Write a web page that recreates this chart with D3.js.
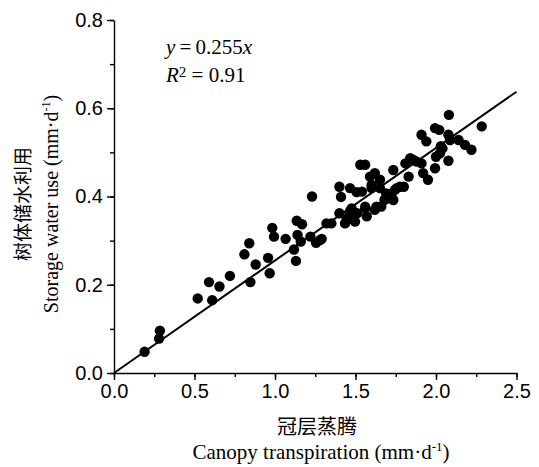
<!DOCTYPE html>
<html>
<head>
<meta charset="utf-8">
<script src="https://cdn.jsdelivr.net/npm/d3@7"></script>
<style>
  body { margin: 0; background: #fff; }
  .tick text { font-family: "Liberation Sans", Arial, sans-serif; font-size: 20px; fill: #000; }
  .domain, .tick line { stroke: #000; stroke-width: 1.4px; }
</style>
</head>
<body>
<script>
//canopy transpiration (mm/d)
var transpiration = [0.19, 0.28, 0.285, 0.52, 0.59, 0.61, 0.655, 0.72, 0.81, 0.84,
  0.847, 0.88, 0.957, 0.967, 0.983, 0.994, 1.066, 1.118, 1.13, 1.135,
  1.168, 1.14, 1.16, 1.22, 1.23, 1.255, 1.29, 1.32, 1.35, 1.40,
  1.41, 1.466, 1.507, 1.40, 1.445, 1.487, 1.435, 1.476, 1.497, 1.57,
  1.56, 1.60, 1.62, 1.59, 2.08, 2.284, 1.994, 2.02, 1.91, 1.94,
  2.077, 2.087, 2.14, 2.18, 2.22, 2.04, 2.025, 2.0, 2.077, 1.994,
  1.91, 1.92, 1.95, 1.84, 1.81, 1.88, 1.83, 1.735, 1.80, 1.756,
  1.725, 1.714, 1.652, 1.652, 1.62, 1.56, 1.53, 1.60, 1.54, 1.66,
  1.56, 1.735, 1.466, 1.63, 1.69, 1.776, 1.28, 1.86, 2.03, 1.68,
  1.745, 1.51];
//storage water use (mm/d)
var storage = [0.048, 0.078, 0.096, 0.169, 0.206, 0.165, 0.196, 0.22, 0.269, 0.294,
  0.206, 0.246, 0.261, 0.226, 0.329, 0.309, 0.304, 0.28, 0.254, 0.345,
  0.337, 0.313, 0.298, 0.309, 0.40, 0.295, 0.304, 0.339, 0.339, 0.422,
  0.399, 0.419, 0.41, 0.362, 0.351, 0.362, 0.339, 0.373, 0.343, 0.355,
  0.373, 0.419, 0.37, 0.445, 0.585, 0.559, 0.555, 0.551, 0.54, 0.525,
  0.54, 0.528, 0.528, 0.517, 0.506, 0.509, 0.498, 0.49, 0.481, 0.464,
  0.475, 0.453, 0.438, 0.487, 0.475, 0.479, 0.445, 0.46, 0.422, 0.419,
  0.407, 0.396, 0.419, 0.438, 0.453, 0.472, 0.472, 0.426, 0.411, 0.377,
  0.377, 0.392, 0.367, 0.377, 0.407, 0.422, 0.301, 0.483, 0.514, 0.392,
  0.415, 0.362];
var slope = 0.255; //fitted line y = 0.255x
var xTicks = [0, 0.5, 1.0, 1.5, 2.0, 2.5];
var yTicks = [0, 0.2, 0.4, 0.6, 0.8];

var width = 539,
    height = 467;

var svg = d3.select("body")
    .append("svg")
    .attr("width", width)
    .attr("height", height);

var x = d3.scaleLinear().domain([0, 2.5]).range([114, 516.5]);
var y = d3.scaleLinear().domain([0, 0.8]).range([373, 20]);

//minor ticks first
svg.append("g")
    .attr("transform", "translate(0,373)")
    .call(d3.axisBottom(x).tickValues(d3.range(0, 2.51, 0.25)).tickSize(4).tickFormat(""))
    .select(".domain").remove();
svg.append("g")
    .attr("transform", "translate(114,0)")
    .call(d3.axisLeft(y).tickValues(d3.range(0, 0.81, 0.1)).tickSize(4).tickFormat(""))
    .select(".domain").remove();

//major axes
svg.append("g")
    .attr("transform", "translate(0,373)")
    .call(d3.axisBottom(x).tickValues(xTicks).tickSize(7).tickSizeOuter(0).tickPadding(4).tickFormat(d3.format(".1f")));
svg.append("g")
    .attr("transform", "translate(114,0)")
    .call(d3.axisLeft(y).tickValues(yTicks).tickSize(7).tickSizeOuter(0).tickPadding(4).tickFormat(d3.format(".1f")));

//regression line
svg.append("line")
    .attr("x1", x(0)).attr("y1", y(0))
    .attr("x2", x(2.5)).attr("y2", y(slope * 2.5))
    .attr("stroke", "#000")
    .attr("stroke-width", 2);

//points
svg.selectAll(".pt")
    .data(transpiration)
    .enter()
    .append("circle")
    .attr("class", "pt")
    .attr("cx", function(d){ return x(d); })
    .attr("cy", function(d, i){ return y(storage[i]); })
    .attr("r", 5.2)
    .attr("fill", "#000");

//equation
var eq = svg.append("text")
    .attr("x", 166).attr("y", 54)
    .style("font-family", "'Liberation Serif', serif")
    .style("font-size", "21px");
eq.append("tspan").style("font-style", "italic").text("y");
eq.append("tspan").text("\u2009=\u20090.255");
eq.append("tspan").style("font-style", "italic").text("x");

var r2 = svg.append("text")
    .attr("x", 166).attr("y", 82)
    .style("font-family", "'Liberation Serif', serif")
    .style("font-size", "21px");
r2.append("tspan").style("font-style", "italic").text("R");
r2.append("tspan").attr("dy", -5).style("font-size", "15px").text("2");
r2.append("tspan").attr("dy", 5).text(" = 0.91");

//x axis titles
svg.append("text")
    .attr("x", 317).attr("y", 434)
    .attr("text-anchor", "middle")
    .style("font-family", "'Noto Sans CJK SC', sans-serif")
    .style("font-size", "20px")
    .text("冠层蒸腾");
var xt = svg.append("text")
    .attr("x", 321).attr("y", 459)
    .attr("text-anchor", "middle")
    .style("font-family", "'Liberation Serif', serif")
    .style("font-size", "21px");
xt.append("tspan").text("Canopy transpiration (mm·d");
xt.append("tspan").attr("dy", -8).style("font-size", "13px").text("-1");
xt.append("tspan").attr("dy", 8).text(")");

//y axis titles
svg.append("text")
    .attr("transform", "translate(30,204) rotate(-90)")
    .attr("text-anchor", "middle")
    .style("font-family", "'Noto Sans CJK SC', sans-serif")
    .style("font-size", "19px")
    .text("树体储水利用");
var yt = svg.append("text")
    .attr("transform", "translate(58,204) rotate(-90)")
    .attr("text-anchor", "middle")
    .style("font-family", "'Liberation Serif', serif")
    .style("font-size", "20px");
yt.append("tspan").text("Storage water use (mm·d");
yt.append("tspan").attr("dy", -8).style("font-size", "12px").text("-1");
yt.append("tspan").attr("dy", 8).text(")");
</script>
</body>
</html>
